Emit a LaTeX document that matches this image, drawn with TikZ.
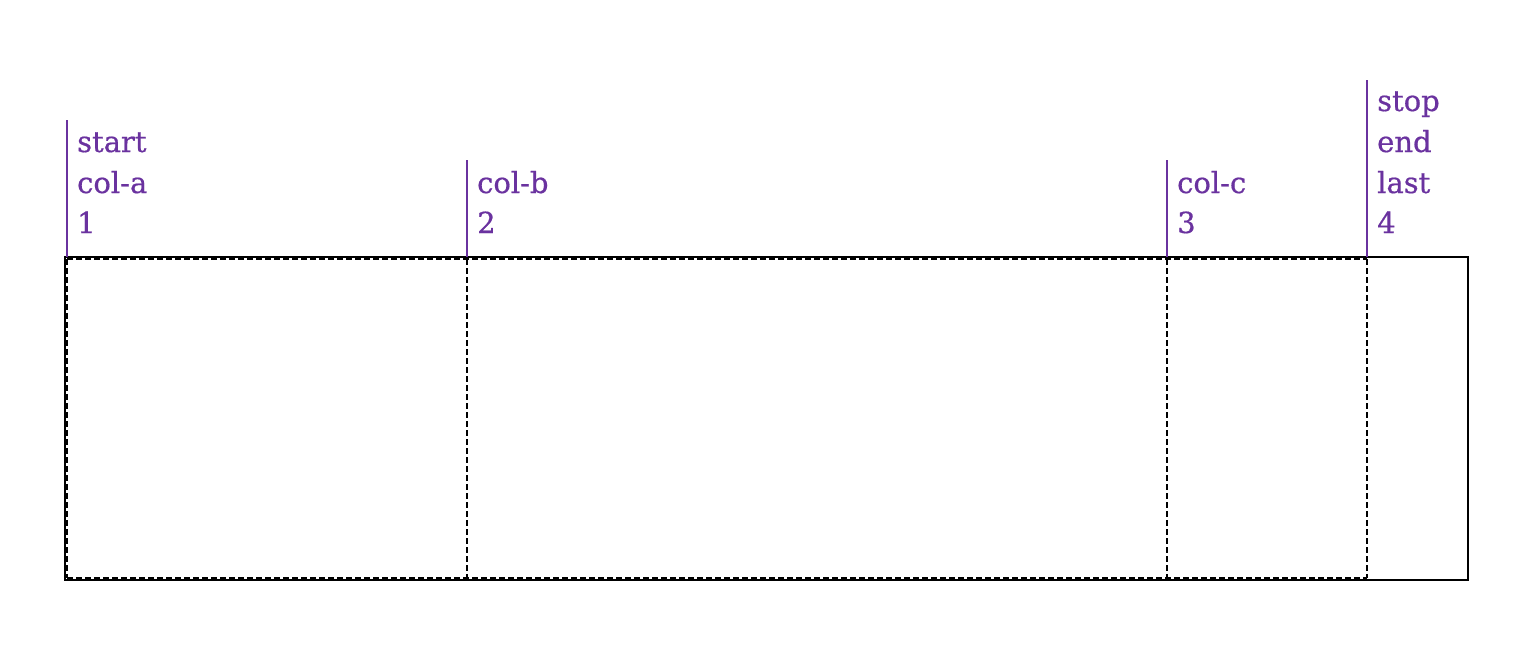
\documentclass[tikz,border=0pt]{standalone}
\usepackage{fontspec}
\setmainfont[FakeBold=0.6]{DejaVu Serif}
\definecolor{labelpurple}{HTML}{6A329F}
\begin{document}
\begin{tikzpicture}[x=1pt,y=-1pt,
  outerbox/.style={draw=black,line width=1.6pt},
  cellline/.style={draw=black,line width=1.6pt,dash pattern=on 6pt off 3pt},
  marker/.style={draw=labelpurple,line width=1.8pt},
  lbl/.style={text=labelpurple,font=\fontsize{29}{35}\selectfont,anchor=base west,inner sep=0pt}]
  \useasboundingbox (0,0) rectangle (1540,646);
  % outer frame of the grid
  \draw[outerbox] (65,257) rectangle (1468,580);
  % dashed grid cells: shared edges drawn once
  \draw[cellline] (67,259) -- (1367,259);
  \draw[cellline] (67,578) -- (1367,578);
  \draw[cellline] (67,259) -- (67,578);
  \draw[cellline] (467,259) -- (467,578);
  \draw[cellline] (1167,259) -- (1167,578);
  \draw[cellline] (1367,259) -- (1367,578);
  % line markers
  \coordinate (m1t) at (67,120);  \coordinate (m1b) at (67,257);
  \coordinate (m2t) at (467,160); \coordinate (m2b) at (467,257);
  \coordinate (m3t) at (1167,160); \coordinate (m3b) at (1167,257);
  \coordinate (m4t) at (1367,80); \coordinate (m4b) at (1367,257);
  \draw[marker] (m1t) -- (m1b);
  \draw[marker] (m2t) -- (m2b);
  \draw[marker] (m3t) -- (m3b);
  \draw[marker] (m4t) -- (m4b);
  % line names
  \node[lbl] (a1) at (77,152) {start};
  \node[lbl] (a2) at (77,193) {col-a};
  \node[lbl] (a3) at (77,233) {1};
  \node[lbl] (b1) at (477,193) {col-b};
  \node[lbl] (b2) at (477,233) {2};
  \node[lbl] (c1) at (1177,193) {col-c};
  \node[lbl] (c2) at (1177,233) {3};
  \node[lbl] (d1) at (1377,111) {stop};
  \node[lbl] (d2) at (1377,152) {end};
  \node[lbl] (d3) at (1377,193) {last};
  \node[lbl] (d4) at (1377,233) {4};
\end{tikzpicture}
\end{document}
